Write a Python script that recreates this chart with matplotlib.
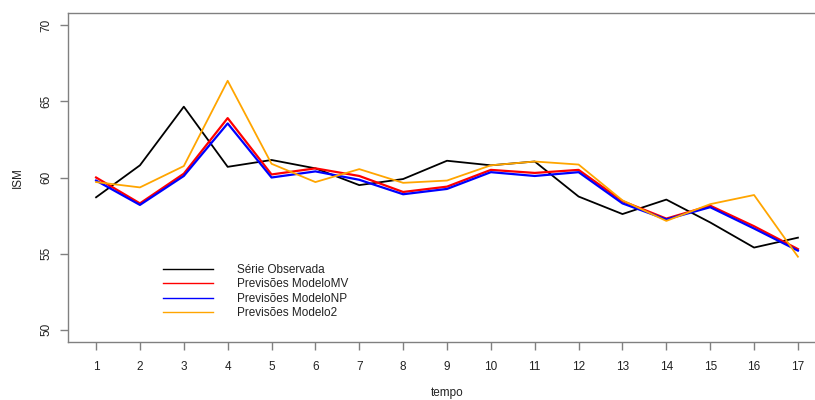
import matplotlib
matplotlib.use('Agg')
import matplotlib.pyplot as plt
import numpy as np

plt.rcParams['font.family'] = ['Liberation Sans', 'DejaVu Sans']

tempo = list(range(1, 18))
observada = [58.7, 60.8, 64.65, 60.7, 61.15, 60.6, 59.5, 59.9, 61.1,
             60.8, 61.05, 58.75, 57.6, 58.55, 57.05, 55.4, 56.05]
modelo_mv = [60.0, 58.3, 60.25, 63.9, 60.2, 60.6, 60.1, 59.05, 59.4,
             60.5, 60.3, 60.5, 58.45, 57.3, 58.15, 56.8, 55.3]
modelo_np = [59.8, 58.2, 60.1, 63.55, 60.0, 60.4, 59.85, 58.9, 59.25,
             60.35, 60.1, 60.35, 58.3, 57.25, 58.05, 56.65, 55.2]
modelo2 = [59.7, 59.35, 60.75, 66.35, 60.9, 59.7, 60.55, 59.65, 59.8,
           60.8, 61.05, 60.85, 58.5, 57.15, 58.25, 58.85, 54.8]

nomes = ['Série Observada', 'Previsões ModeloMV', 'Previsões ModeloNP', 'Previsões Modelo2']

fig = plt.figure(figsize=(8.15, 4.0), dpi=100)
ax = fig.add_axes([68/815, 1-342/400, (826-68)/815, (342-13)/400])

ax.plot(tempo, observada, color='black', linewidth=1.3, label=nomes[0])
ax.plot(tempo, modelo_mv, color='red', linewidth=1.6, label=nomes[1])
ax.plot(tempo, modelo_np, color='blue', linewidth=1.6, label=nomes[2])
ax.plot(tempo, modelo2, color='orange', linewidth=1.3, label=nomes[3])

ax.set_xlim(1 - 0.64, 17 + 0.64)
ax.set_ylim(49.2, 70.8)
ax.set_xticks(tempo)
ax.set_yticks([50, 55, 60, 65, 70])
ax.set_yticklabels(['50', '55', '60', '65', '70'], rotation=90, va='center')

for s in ax.spines.values():
    s.set_color('#808080')
    s.set_linewidth(1.0)
ax.tick_params(axis='both', colors='#808080', length=6, width=1.0,
               labelcolor='#222222', labelsize=8.5)
ax.tick_params(axis='x', pad=8)
ax.tick_params(axis='y', pad=5)

ax.set_xlabel('tempo', fontsize=8.5, color='#222222', labelpad=10)
ax.set_ylabel('ISM', fontsize=8.5, color='#222222', labelpad=12)

leg = ax.legend(loc='upper left', bbox_to_anchor=(163/815, 1-264/400),
                bbox_transform=fig.transFigure, frameon=False, fontsize=8.5,
                handlelength=4.2, handletextpad=2.1, labelspacing=0.2,
                borderpad=0, borderaxespad=0)
for t in leg.get_texts():
    t.set_color('#222222')
for h in leg.get_lines():
    h.set_linewidth(1.0)

fig.savefig('out.png', dpi=100)
